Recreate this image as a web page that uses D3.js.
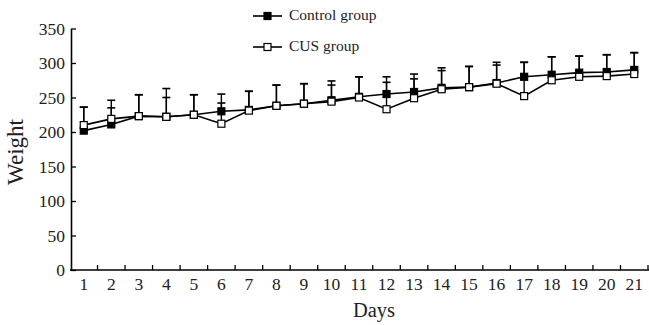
<!DOCTYPE html>
<html><head><meta charset="utf-8">
<script src="https://cdn.jsdelivr.net/npm/d3@7"></script>
<style>body{margin:0;background:#fff}svg{display:block}</style>
</head><body>
<svg id="c" width="649" height="325"></svg>
<script>
const days = [1,2,3,4,5,6,7,8,9,10,11,12,13,14,15,16,17,18,19,20,21];
const controlMean = [202,211,223,222,225,230,232,238,241,246,251,255,258,264,265,271,280,283,286,287,290];
const controlSD   = [34,35,31,41,29,25,27,30,29,28,29,25,26,29,30,30,21,26,24,25,25];
const cusMean     = [210,219,223,222,225,212,231,238,241,244,250,233,249,262,265,270,252,275,280,281,284];
const cusSD       = [26,16,31,28,29,30,28,30,29,24,30,39,28,27,30,27,49,34,30,31,31];
const yTicks = [0,50,100,150,200,250,300,350];
const seriesNames = ["Control group","CUS group"];

const svg = d3.select("#c");
const font = "'Liberation Serif', 'Times New Roman', serif";
const x = d3.scaleBand().domain(days).range([70,648]).padding(0);
const y = d3.scaleLinear().domain([0,350]).range([270,28.5]);
const cx = d => x(d) + x.bandwidth()/2;

// Y axis
const yAxis = svg.append("g").attr("transform","translate(71,0)")
  .call(d3.axisLeft(y).tickValues(yTicks).tickSize(-5).tickPadding(6).tickSizeOuter(0));
yAxis.attr("font-family",font);
yAxis.select(".domain").attr("stroke","#000").attr("stroke-width",1.6);
yAxis.selectAll(".tick line").attr("stroke","#000").attr("stroke-width",1.3);
yAxis.selectAll(".tick text").attr("font-family",font).attr("font-size",17.5).attr("fill","#222");

// X axis
const xAxis = svg.append("g").attr("transform","translate(0,270)")
  .call(d3.axisBottom(x).tickSize(0).tickPadding(8).tickSizeOuter(0));
xAxis.attr("font-family",font);
xAxis.select(".domain").attr("stroke","#000").attr("stroke-width",1.6).attr("d","M70,0H649");
xAxis.selectAll(".tick text").attr("font-family",font).attr("font-size",17.5).attr("fill","#222").attr("dy","0.7em");
// boundary ticks (inward)
svg.append("g").selectAll("line").data(days).join("line")
  .attr("x1",d=>x(d)+x.bandwidth()).attr("x2",d=>x(d)+x.bandwidth())
  .attr("y1",270).attr("y2",265).attr("stroke","#000").attr("stroke-width",1.3);

// Axis titles
svg.append("text").attr("transform","translate(18,152) rotate(-90)")
  .attr("text-anchor","middle").attr("dominant-baseline","middle")
  .attr("font-family",font).attr("font-size",23).attr("fill","#222").text("Weight");
svg.append("text").attr("x",374).attr("y",317).attr("text-anchor","middle")
  .attr("font-family",font).attr("font-size",20.5).attr("fill","#222").text("Days");

const series = [
  {name:seriesNames[0], mean:controlMean, sd:controlSD, fill:"#000"},
  {name:seriesNames[1], mean:cusMean, sd:cusSD, fill:"#fff"}
];

// error bars
series.forEach(s=>{
  const g = svg.append("g");
  g.selectAll("line.v").data(days).join("line")
    .attr("x1",(d)=>cx(d)).attr("x2",d=>cx(d))
    .attr("y1",(d,i)=>y(s.mean[i])).attr("y2",(d,i)=>y(s.mean[i]+s.sd[i]))
    .attr("stroke","#000").attr("stroke-width",1.4);
  g.selectAll("line.c").data(days).join("line")
    .attr("x1",d=>cx(d)-4).attr("x2",d=>cx(d)+4)
    .attr("y1",(d,i)=>y(s.mean[i]+s.sd[i])).attr("y2",(d,i)=>y(s.mean[i]+s.sd[i]))
    .attr("stroke","#000").attr("stroke-width",1.6);
});

// lines
const line = d3.line().x((d,i)=>cx(days[i])).y(d=>y(d));
series.forEach(s=>{
  svg.append("path").datum(s.mean).attr("d",line).attr("fill","none")
    .attr("stroke","#000").attr("stroke-width",1.6);
});
// markers
series.forEach(s=>{
  svg.append("g").selectAll("rect").data(s.mean).join("rect")
    .attr("x",(d,i)=>cx(days[i])-3.5).attr("y",d=>y(d)-3.5)
    .attr("width",7).attr("height",7)
    .attr("fill",s.fill).attr("stroke","#000").attr("stroke-width",1.2);
});

// legend
const lg = svg.append("g");
series.forEach((s,i)=>{
  const ly = 16 + i*31;
  lg.append("line").attr("x1",253).attr("x2",282).attr("y1",ly).attr("y2",ly)
    .attr("stroke","#000").attr("stroke-width",1.6);
  lg.append("rect").attr("x",264).attr("y",ly-3.5).attr("width",7).attr("height",7)
    .attr("fill",s.fill).attr("stroke","#000").attr("stroke-width",1.2);
  lg.append("text").attr("x",289).attr("y",ly).attr("dominant-baseline","middle")
    .attr("font-family",font).attr("font-size",15.5).attr("fill","#222").text(s.name);
});
</script>
</body></html>
